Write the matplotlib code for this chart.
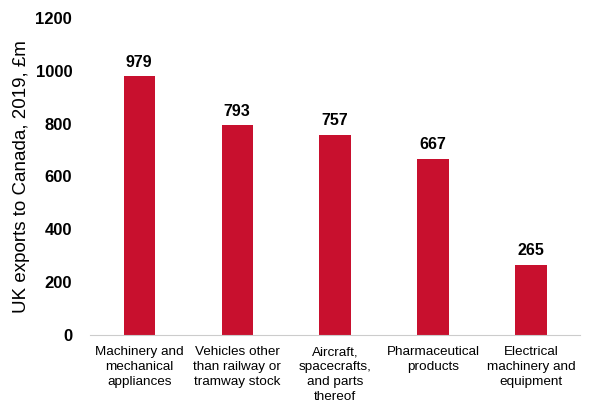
import matplotlib.pyplot as plt

plt.rcParams['font.family'] = ['Liberation Sans', 'DejaVu Sans']

categories = ["Machinery and\nmechanical\nappliances",
              "Vehicles other\nthan railway or\ntramway stock",
              "Aircraft,\nspacecrafts,\nand parts\nthereof",
              "Pharmaceutical\nproducts",
              "Electrical\nmachinery and\nequipment"]
values = [979, 793, 757, 667, 265]
yticks = [0, 200, 400, 600, 800, 1000, 1200]

fig = plt.figure(figsize=(5.9, 4.05), dpi=100)
ax = fig.add_axes([0.153, 0.173, 0.83, 0.783])

x = range(len(values))
bars = ax.bar(x, values, width=0.32, color="#C8102E")
for xi, v in zip(x, values):
    ax.text(xi, v + 25, str(v), ha="center", va="bottom", fontsize=11.5, fontweight="bold")

ax.set_xlim(-0.5, 4.5)
ax.set_ylim(0, 1200)
ax.set_yticks(yticks)
ax.set_yticklabels([str(t) for t in yticks], fontsize=12, fontweight="bold")
ax.set_xticks(list(x))
ax.set_xticklabels(categories, fontsize=9.7, linespacing=1.35)
ax.tick_params(axis="x", length=0, pad=8)
ax.tick_params(axis="y", length=0, pad=13)
ax.set_ylabel("UK exports to Canada, 2019, £m", fontsize=13.5, labelpad=4)

for s in ["top", "right", "left"]:
    ax.spines[s].set_visible(False)
ax.spines["bottom"].set_color("#cccccc")

fig.savefig("out.png", dpi=100)
